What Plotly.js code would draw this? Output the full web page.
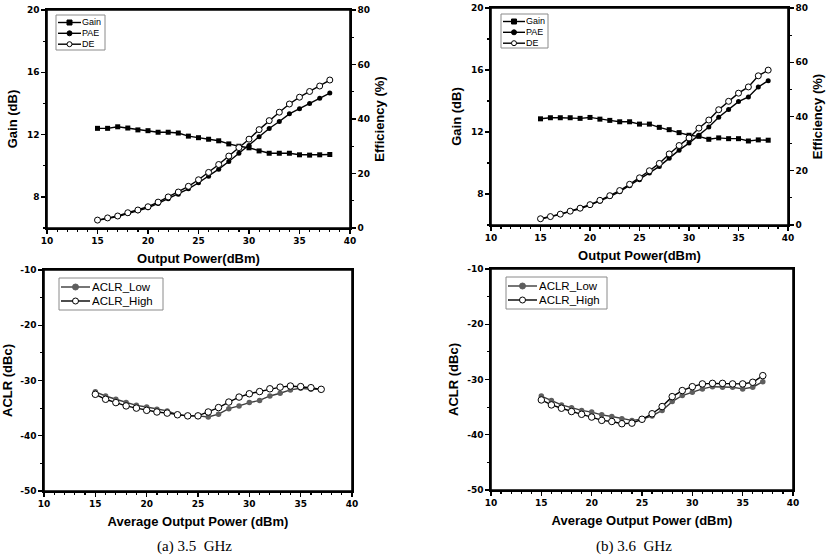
<!DOCTYPE html>
<html>
<head>
<meta charset="utf-8">
<script src="https://cdn.plot.ly/plotly-3.0.1.min.js"></script>
<style>html,body{margin:0;padding:0;background:#fff;}#chart{width:827px;height:556px;}</style>
</head>
<body>
<div id="chart"></div>
<script>
// ---- Data ----
var pout = [15,16,17,18,19,20,21,22,23,24,25,26,27,28,29,30,31,32,33,34,35,36,37,38];
var gain35 = [12.4,12.4,12.5,12.42,12.3,12.25,12.15,12.15,12.1,11.9,11.8,11.7,11.6,11.4,11.25,11.15,10.95,10.8,10.8,10.8,10.7,10.68,10.7,10.72];
var pae35  = [2.8,3.5,4.2,5.3,6.3,7.4,9.0,10.7,12.4,14.4,16.6,19.0,21.6,24.4,27.4,30.3,33.5,36.5,39.1,41.9,43.8,45.7,47.6,49.5];
var de35   = [2.9,3.7,4.4,5.6,6.6,7.8,9.5,11.4,13.2,15.3,17.7,20.4,23.3,26.4,29.5,32.6,36.1,39.4,42.5,45.5,48.0,50.1,52.1,54.3];
var gain36 = [12.85,12.92,12.92,12.92,12.88,12.94,12.83,12.75,12.66,12.66,12.51,12.51,12.3,12.15,11.96,11.79,11.72,11.53,11.62,11.57,11.57,11.42,11.49,11.47];
var pae36  = [2.2,3.0,3.9,5.0,6.0,7.3,8.8,10.5,12.3,14.5,16.7,19.2,21.6,24.6,27.6,30.2,33.1,36.1,39.7,42.6,45.5,47.2,50.9,53.2];
var de36   = [2.3,3.1,4.0,5.1,6.2,7.5,9.1,10.8,12.7,15.0,17.4,20.0,22.7,26.2,29.3,32.1,35.7,38.7,42.5,45.6,48.6,50.9,55.0,57.1];

var pavg = [15,16,17,18,19,20,21,22,23,24,25,26,27,28,29,30,31,32,33,34,35,36,37];
var aclrLow35  = [-32.05,-32.8,-33.4,-34.0,-34.5,-34.8,-35.2,-35.5,-36.2,-36.4,-36.4,-36.6,-36.1,-35.1,-34.6,-34.0,-33.6,-32.8,-32.3,-31.7,-31.4,-31.6,-31.6];
var aclrHigh35 = [-32.5,-33.4,-34.0,-34.6,-35.0,-35.4,-35.7,-35.9,-36.2,-36.4,-36.4,-35.7,-34.9,-33.9,-33.0,-32.4,-32.0,-31.5,-31.2,-31.0,-31.1,-31.3,-31.6];
var aclrLow36  = [-33.0,-33.8,-34.6,-35.1,-35.6,-35.9,-36.4,-36.7,-37.1,-37.4,-37.2,-36.6,-35.6,-34.0,-32.9,-32.3,-31.7,-31.3,-31.4,-31.4,-31.7,-31.4,-30.4];
var aclrHigh36 = [-33.7,-34.6,-35.2,-35.8,-36.3,-36.8,-37.4,-37.6,-38.0,-37.9,-37.2,-36.2,-34.9,-33.1,-32.0,-31.3,-30.8,-30.7,-30.7,-30.8,-30.8,-30.5,-29.3];

var aclrTickVals = [-50, -40, -30, -20, -10];
var aclrTickText = ['-50', '-40', '-30', '-20', '-10'];
var xTitleTop = 'Output Power(dBm)';
var xTitleBot = 'Average Output Power (dBm)';
var captions = ['(a)\u00a03.5\u00a0\u00a0GHz', '(b)\u00a03.6\u00a0\u00a0GHz'];
var topNames = ['Gain', 'PAE', 'DE'];
var botNames = ['ACLR_Low', 'ACLR_High'];

// ---- Styling helpers ----
var W = 827, H = 556;
function dx(a, b) { return [a / W, b / W]; }
function dy(top, bot) { return [1 - bot / H, 1 - top / H]; }
var TFONT = 'DejaVu Sans, Liberation Sans, Arial, sans-serif';
var AFONT = 'Liberation Sans, Arial, sans-serif';
var tickFont = {family: TFONT, size: 9, color: '#000', weight: 'bold'};
var titleFont = {family: AFONT, size: 13, color: '#000', weight: 'bold'};

function xAxis(domain, anchor, title) {
  return {
    domain: domain, anchor: anchor, range: [10, 40], dtick: 5, tick0: 0,
    ticks: 'outside', ticklen: 4, tickwidth: 1.3, tickcolor: '#000',
    minor: {dtick: 1, ticks: 'outside', ticklen: 2.5, tickwidth: 1.2, tickcolor: '#000'},
    showline: true, linecolor: '#000', linewidth: 1.6, mirror: true,
    showgrid: false, zeroline: false, tickfont: tickFont,
    title: {text: title, font: titleFont, standoff: 8}
  };
}
function yAxis(domain, anchor, range, dt, mdt, title, side, overlay) {
  var a = {
    domain: domain, anchor: anchor, range: range, dtick: dt, tick0: 0,
    ticks: 'outside', ticklen: 4, tickwidth: 1.3, tickcolor: '#000',
    minor: {dtick: mdt, ticks: 'outside', ticklen: 2.5, tickwidth: 1.2, tickcolor: '#000'},
    showline: true, linecolor: '#000', linewidth: 1.6,
    showgrid: false, zeroline: false, tickfont: tickFont,
    title: {text: title, font: titleFont, standoff: 6}
  };
  if (side) a.side = side;
  if (overlay) a.overlaying = overlay;
  return a;
}

var lineBlk = {color: '#000', width: 1.4};
var styles = {
  'Gain': {line: lineBlk, marker: {symbol: 'square', size: 5, color: '#000'}},
  'PAE': {line: lineBlk, marker: {symbol: 'circle', size: 5, color: '#000'}},
  'DE': {line: lineBlk, marker: {symbol: 'circle', size: 6, color: '#fff', line: {color: '#000', width: 1}}},
  'ACLR_Low': {line: {color: '#3c3c3c', width: 1.4}, marker: {symbol: 'circle', size: 5.5, color: '#5e5e5e'}},
  'ACLR_High': {line: {color: '#000', width: 1.4}, marker: {symbol: 'circle', size: 6.5, color: '#fff', line: {color: '#000', width: 1}}}
};
function tr(name, x, y, xa, ya) {
  var s = styles[name];
  return {x: x, y: y, xaxis: xa, yaxis: ya, name: name, mode: 'lines+markers', type: 'scatter',
    showlegend: false, line: s.line, marker: s.marker};
}

var data = [
  tr('Gain', pout, gain35, 'x', 'y'),
  tr('PAE', pout, pae35, 'x', 'y2'),
  tr('DE', pout, de35, 'x', 'y2'),
  tr('Gain', pout, gain36, 'x2', 'y3'),
  tr('PAE', pout, pae36, 'x2', 'y4'),
  tr('DE', pout, de36, 'x2', 'y4'),
  tr('ACLR_Low', pavg, aclrLow35, 'x3', 'y5'),
  tr('ACLR_High', pavg, aclrHigh35, 'x3', 'y5'),
  tr('ACLR_Low', pavg, aclrLow36, 'x4', 'y6'),
  tr('ACLR_High', pavg, aclrHigh36, 'x4', 'y6')
];

// ---- Legend boxes (layout decorations placed in paper pixels) ----
var shapes = [], annotations = [];
function px(x) { return x / W; }
function py(y) { return 1 - y / H; }
function legend(x0, y0, x1, y1, names, rowY, lineX0, lineX1, textX, fsize, msz, rowH) {
  shapes.push({type: 'rect', xref: 'paper', yref: 'paper', x0: px(x0), x1: px(x1), y0: py(y1), y1: py(y0),
    line: {color: '#8a8a8a', width: 1}, fillcolor: '#fff', layer: 'above'});
  names.forEach(function (n, i) {
    var s = styles[n], y = rowY[i], cx = (lineX0 + lineX1) / 2, r = msz / 2;
    shapes.push({type: 'line', xref: 'paper', yref: 'paper', x0: px(lineX0), x1: px(lineX1), y0: py(y), y1: py(y),
      line: {color: s.line.color, width: s.line.width}, layer: 'above'});
    var mk = s.marker;
    var fill = mk.color, lc = mk.line ? mk.line.color : mk.color;
    shapes.push({type: mk.symbol === 'square' ? 'rect' : 'circle', xref: 'paper', yref: 'paper',
      x0: px(cx - r), x1: px(cx + r), y0: py(y + r), y1: py(y - r),
      fillcolor: fill, line: {color: lc, width: 1}, layer: 'above'});
    annotations.push({text: n, xref: 'paper', yref: 'paper', x: px(textX), y: py(y), xanchor: 'left', yanchor: 'middle',
      height: rowH, borderpad: 0, valign: 'middle',
      showarrow: false, font: {family: AFONT, size: fsize, color: '#000'}});
  });
}
legend(56, 15, 105, 50, topNames, [22.5, 33.3, 44.2], 58, 81, 81, 9, 5, 10);
legend(501, 14, 548, 48, topNames, [21.5, 32.3, 43.2], 503, 525, 525, 9, 5, 10);
legend(59, 278, 163, 310, botNames, [287, 301], 61, 90, 91, 11.5, 6, 12.5);
legend(506, 277, 607, 309, botNames, [286, 300], 508, 537, 538, 11.5, 6, 12.5);

// plot frames
[['x', 'y'], ['x2', 'y3'], ['x3', 'y5'], ['x4', 'y6']].forEach(function (p) {
  shapes.push({type: 'rect', xref: p[0] + ' domain', yref: p[1] + ' domain', x0: 0, x1: 1, y0: 0, y1: 1,
    line: {color: '#000', width: 1.6}, layer: 'above'});
});

annotations.push({text: captions[0], xref: 'paper', yref: 'paper', x: px(194), y: py(546), xanchor: 'center', yanchor: 'middle',
  showarrow: false, font: {family: 'Liberation Serif, Times New Roman, serif', size: 15, color: '#000'}});
annotations.push({text: captions[1], xref: 'paper', yref: 'paper', x: px(634), y: py(546), xanchor: 'center', yanchor: 'middle',
  showarrow: false, font: {family: 'Liberation Serif, Times New Roman, serif', size: 15, color: '#000'}});

var layout = {
  width: W, height: H,
  margin: {l: 0, r: 0, t: 0, b: 0},
  paper_bgcolor: '#fff', plot_bgcolor: '#fff',
  showlegend: false,
  xaxis: xAxis(dx(47, 350), 'y', xTitleTop),
  yaxis: yAxis(dy(10, 228), 'x', [6, 20], 4, 2, 'Gain (dB)'),
  yaxis2: yAxis(dy(10, 228), 'x', [0, 80], 20, 10, 'Efficiency (%)', 'right', 'y'),
  xaxis2: xAxis(dx(491, 788), 'y3', xTitleTop),
  yaxis3: yAxis(dy(8, 225), 'x2', [6, 20], 4, 2, 'Gain (dB)'),
  yaxis4: yAxis(dy(8, 225), 'x2', [0, 80], 20, 10, 'Efficiency (%)', 'right', 'y3'),
  xaxis3: xAxis(dx(44, 352), 'y5', xTitleBot),
  yaxis5: yAxis(dy(270, 491), 'x3', [-50, -10], 10, 5, 'ACLR (dBc)'),
  xaxis4: xAxis(dx(491, 793), 'y6', xTitleBot),
  yaxis6: yAxis(dy(269, 490), 'x4', [-50, -10], 10, 5, 'ACLR (dBc)'),
  shapes: shapes,
  annotations: annotations
};
['yaxis5', 'yaxis6'].forEach(function (k) {
  layout[k].mirror = true;
  layout[k].tickmode = 'array';
  layout[k].tickvals = aclrTickVals;
  layout[k].ticktext = aclrTickText;
});

Plotly.newPlot('chart', data, layout, {displayModeBar: false, staticPlot: true});
</script>
</body>
</html>
